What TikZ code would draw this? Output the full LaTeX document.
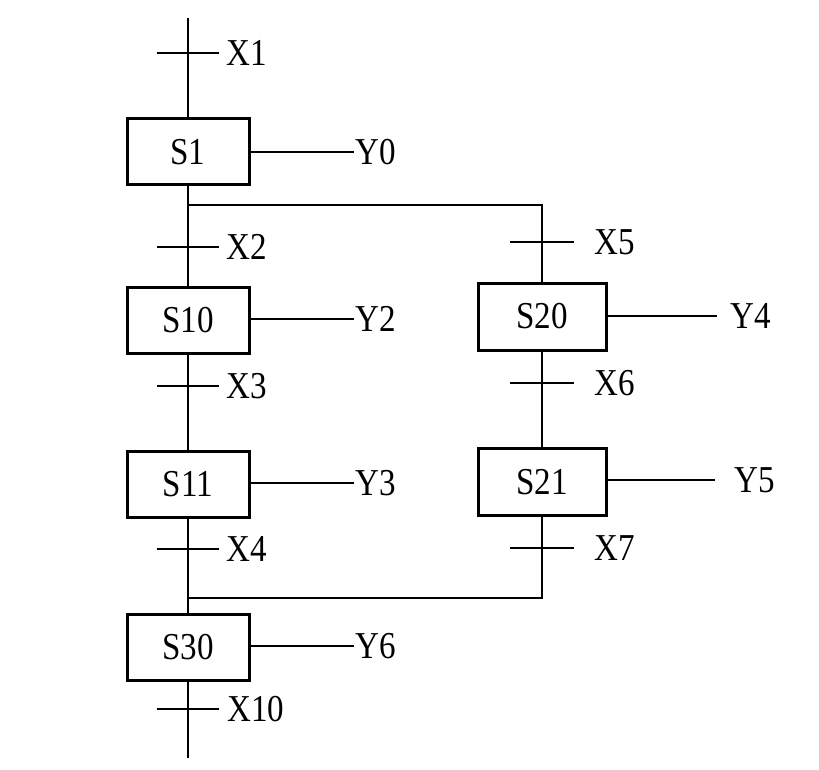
\documentclass[tikz,border=0pt]{standalone}
\usepackage{fontspec}
\setmainfont{Liberation Serif}[FakeStretch=0.87]
\begin{document}
\begin{tikzpicture}[x=1pt,y=-1pt,
  line width=2.5pt,
  stepbox/.style={draw,line width=3pt,minimum width=122pt,minimum height=66pt,inner sep=0pt,outer sep=0pt,font=\fontsize{38}{42}\selectfont},
  rstep/.style={stepbox,minimum width=128pt,minimum height=67pt},
  lbl/.style={anchor=west,inner sep=0pt,text height=25pt,text depth=0pt,font=\fontsize{38}{42}\selectfont},
  tick/.style={line width=2.5pt}]
\useasboundingbox (0,0) rectangle (819,770);
% nodes
\node[stepbox] (S1)  at (188,152) {S1};
\node[stepbox] (S10) at (188,320) {S10};
\node[stepbox] (S11) at (188,484.5) {S11};
\node[stepbox] (S30) at (188,647.5) {S30};
\node[rstep] (S20) at (542,316.5) {S20};
\node[rstep] (S21) at (542,482) {S21};
% coordinates
\coordinate (top) at (188,18);
\coordinate (bot) at (188,758);
\coordinate (t1) at (188,53);
\coordinate (t2) at (188,247);
\coordinate (t3) at (188,386);
\coordinate (t4) at (188,549);
\coordinate (t10) at (188,709);
\coordinate (t5) at (542,242);
\coordinate (t6) at (542,383);
\coordinate (t7) at (542,548);
\coordinate (bl) at (188,205);
\coordinate (br) at (542,205);
\coordinate (ml) at (188,598);
\coordinate (mr) at (542,598);
% main lines
\draw (top) -- (S1.north);
\draw (S1.south) -- (bl) -- (S10.north);
\draw (S10.south) -- (S11.north);
\draw (S11.south) -- (ml) -- (S30.north);
\draw (S30.south) -- (bot);
\draw (bl) -- (br) -- (S20.north);
\draw (S20.south) -- (S21.north);
\draw (S21.south) -- (mr) -- (ml);
% transitions
\foreach \t in {t1,t2,t3,t4,t10}{
  \draw[tick] ([xshift=-31pt]\t) -- ([xshift=31pt]\t);
}
\foreach \t in {t5,t6,t7}{
  \draw[tick] ([xshift=-32pt]\t) -- ([xshift=32pt]\t);
}
\node[lbl] (X1) at ([xshift=37pt]t1) {X1};
\node[lbl] (X2) at ([xshift=37pt]t2) {X2};
\node[lbl] (X3) at ([xshift=37pt]t3) {X3};
\node[lbl] (X4) at ([xshift=37pt]t4) {X4};
\node[lbl] (X10) at ([xshift=38pt]t10) {X10};
\node[lbl] (X5) at ([xshift=51pt]t5) {X5};
\node[lbl] (X6) at ([xshift=51pt]t6) {X6};
\node[lbl] (X7) at ([xshift=51pt]t7) {X7};
% outputs
\node[lbl] (Y0) at (354,152) {Y0};
\node[lbl] (Y2) at (354,319) {Y2};
\node[lbl] (Y3) at (354,483) {Y3};
\node[lbl] (Y6) at (354,646) {Y6};
\node[lbl] (Y4) at (729,316) {Y4};
\node[lbl] (Y5) at (733,480) {Y5};
\draw (S1.east |- Y0.west) -- (Y0.west);
\draw (S10.east |- Y2.west) -- (Y2.west);
\draw (S11.east |- Y3.west) -- (Y3.west);
\draw (S30.east |- Y6.west) -- (Y6.west);
\draw (S20.east |- Y4.west) -- ([xshift=-12pt]Y4.west);
\draw (S21.east |- Y5.west) -- ([xshift=-18pt]Y5.west);
\end{tikzpicture}
\end{document}
